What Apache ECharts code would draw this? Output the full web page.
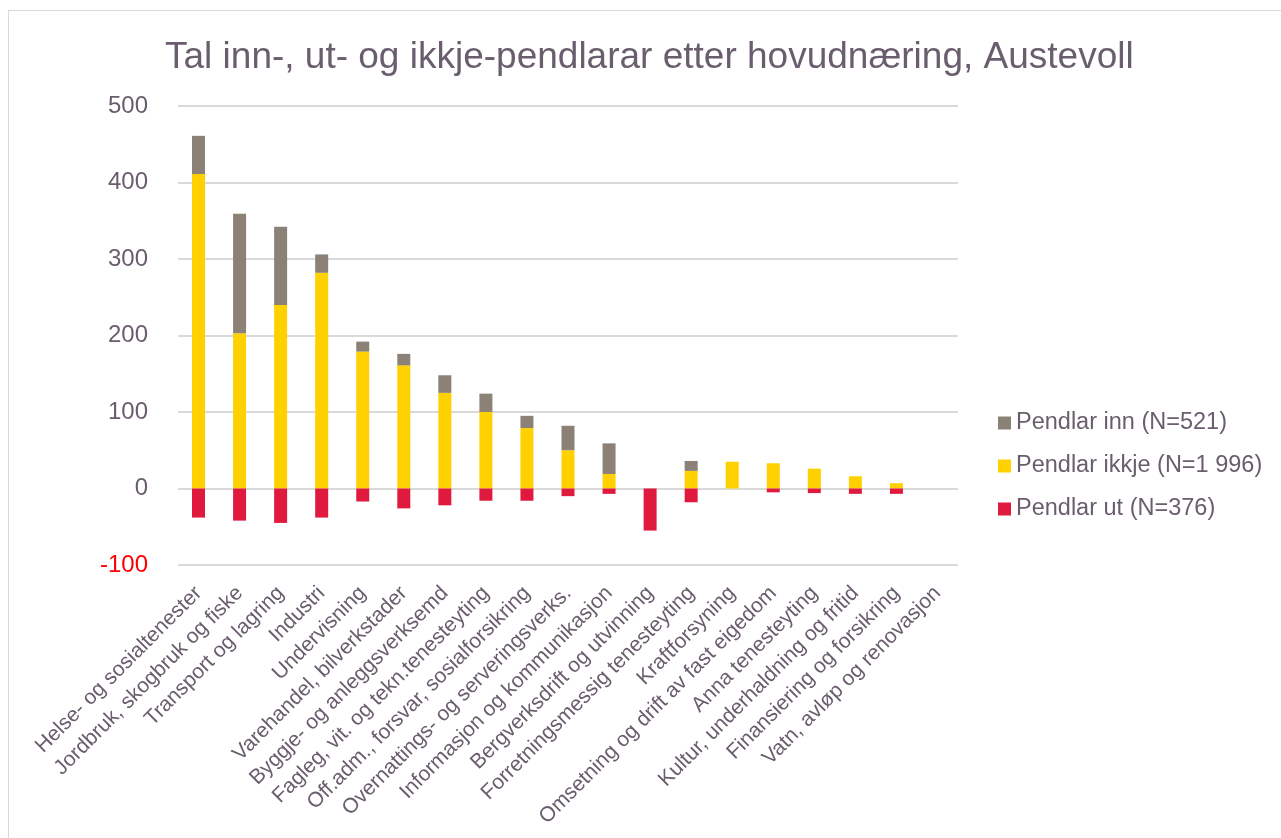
<!DOCTYPE html>
<html>
<head>
    <meta charset="utf-8">
    <title>Pendlarar Austevoll</title>
    <script src="https://cdn.jsdelivr.net/npm/echarts@6/dist/echarts.min.js"></script>
    <style>
        body { margin: 0; overflow: hidden; background: #fff; }
        #frame {
            position: absolute; left: 8px; top: 10px;
            width: 1400px; height: 900px;
            border: 1px solid #d9d9d9;
        }
        #main { position: absolute; left: 0; top: 0; width: 1281px; height: 838px; }
    </style>
</head>
<body>
    <div id="frame"></div>
    <div id="main"></div>
    <script>
        var categories = [
            'Helse- og sosialtenester',
            'Jordbruk, skogbruk og fiske',
            'Transport og lagring',
            'Industri',
            'Undervisning',
            'Varehandel, bilverkstader',
            'Byggje- og anleggsverksemd',
            'Fagleg, vit. og tekn.tenesteyting',
            'Off.adm., forsvar, sosialforsikring',
            'Overnattings- og serveringsverks.',
            'Informasjon og kommunikasjon',
            'Bergverksdrift og utvinning',
            'Forretningsmessig tenesteyting',
            'Kraftforsyning',
            'Omsetning og drift av fast eigedom',
            'Anna tenesteyting',
            'Kultur, underhaldning og fritid',
            'Finansiering og forsikring',
            'Vatn, avløp og renovasjon'
        ];
        var pendlarIkkje = [411, 203, 240, 282, 179, 161, 125, 100, 79, 50, 19, 0, 23, 35, 33, 26, 16, 7, 0];
        var pendlarInn   = [50, 156, 102, 24, 13, 15, 23, 24, 16, 32, 40, 0, 13, 0, 0, 0, 0, 0, 0];
        var pendlarUt    = [-38, -42, -45, -38, -17, -26, -22, -16, -16, -10, -7, -55, -18, 0, -5, -6, -7, -7, 0];
        var yTicks = { min: -100, max: 500, interval: 100 };

        var textColor = '#6a5d6e';
        var nameInn = 'Pendlar inn (N=521)';
        var nameIkkje = 'Pendlar ikkje (N=1 996)';
        var nameUt = 'Pendlar ut (N=376)';

        var myChart = echarts.init(document.getElementById('main'));

        var option = {
            animation: false,
            textStyle: { fontFamily: 'Liberation Sans, Arial, sans-serif' },
            title: {
                text: 'Tal inn-, ut- og ikkje-pendlarar etter hovudnæring, Austevoll',
                left: 160,
                top: 34,
                textStyle: { fontSize: 37, fontWeight: 'normal', color: textColor }
            },
            legend: {
                orient: 'vertical',
                left: 993,
                top: 406,
                itemWidth: 13,
                itemHeight: 13,
                itemGap: 19,
                icon: 'rect',
                data: [nameInn, nameIkkje, nameUt],
                textStyle: { fontSize: 23.5, color: textColor }
            },
            grid: { left: 178, right: 323, top: 106, bottom: 273 },
            xAxis: {
                type: 'category',
                data: categories,
                axisLine: { show: false, onZero: false },
                axisTick: { show: false },
                axisLabel: {
                    interval: 0,
                    rotate: 45,
                    fontSize: 21,
                    color: textColor,
                    margin: 25
                }
            },
            yAxis: {
                type: 'value',
                min: yTicks.min,
                max: yTicks.max,
                interval: yTicks.interval,
                axisLabel: {
                    fontSize: 24,
                    margin: 30,
                    color: function (v) { return Number(v) < 0 ? '#ff0000' : textColor; }
                },
                splitLine: { lineStyle: { color: '#d9d9d9', width: 2 } }
            },
            series: [
                {
                    name: nameIkkje,
                    type: 'bar',
                    stack: 'p',
                    barWidth: 13,
                    itemStyle: { color: '#ffd100' },
                    data: pendlarIkkje
                },
                {
                    name: nameInn,
                    type: 'bar',
                    stack: 'p',
                    itemStyle: { color: '#8b8177' },
                    data: pendlarInn
                },
                {
                    name: nameUt,
                    type: 'bar',
                    stack: 'p',
                    itemStyle: { color: '#e0193f' },
                    data: pendlarUt
                }
            ]
        };

        option && myChart.setOption(option);

        window.onresize = function () {
            myChart.resize();
        };
    </script>
</body>
</html>
